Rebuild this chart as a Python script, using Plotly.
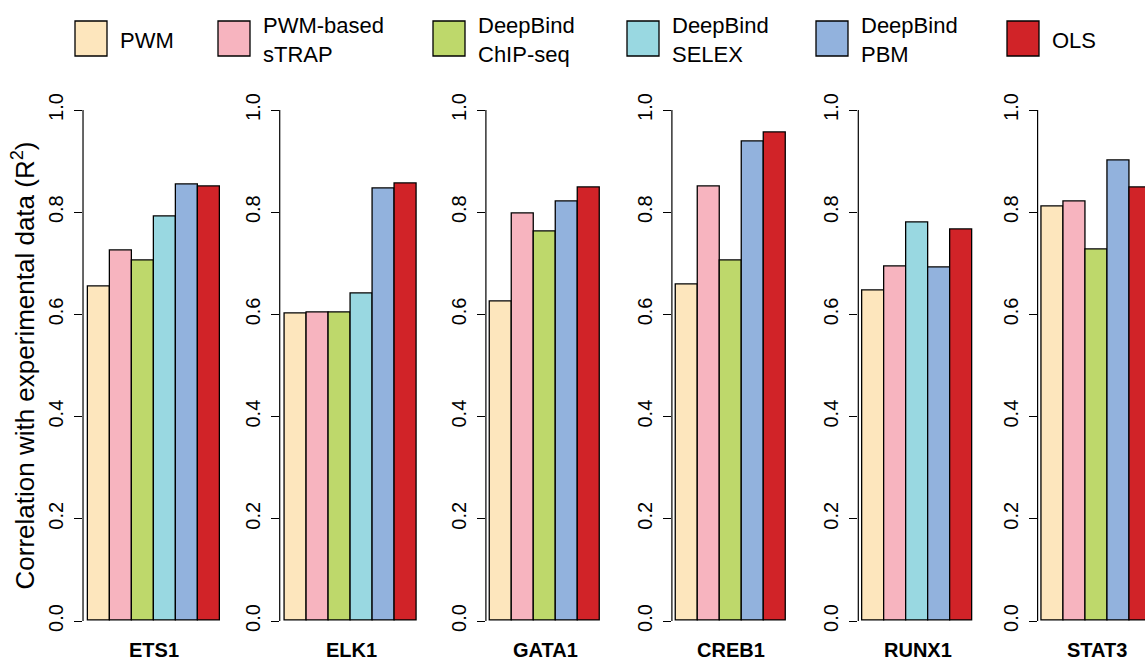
import plotly.graph_objects as go

# ---------------- data ----------------
methods = ["PWM", "PWM-based sTRAP", "DeepBind ChIP-seq", "DeepBind SELEX", "DeepBind PBM", "OLS"]
legend_labels = ["PWM", "PWM-based<br>sTRAP", "DeepBind<br>ChIP-seq", "DeepBind<br>SELEX", "DeepBind<br>PBM", "OLS"]
colors = ["#FDE6BD", "#F7B4BF", "#BED86B", "#99D8E1", "#92B2DD", "#D12328"]
factors = ["ETS1", "ELK1", "GATA1", "CREB1", "RUNX1", "STAT3"]
ets1 = [0.655, 0.724, 0.706, 0.791, 0.855, 0.850]
elk1 = [0.601, 0.604, 0.603, 0.640, 0.847, 0.857]
gata1 = [0.625, 0.798, 0.763, None, 0.821, 0.849]
creb1 = [0.659, 0.850, 0.705, None, 0.939, 0.956]
runx1 = [0.647, 0.694, None, 0.780, 0.692, 0.767]
stat3 = [0.812, 0.821, 0.726, None, 0.902, 0.848]
panel_values = [ets1, elk1, gata1, creb1, runx1, stat3]
y_ticks = [0.0, 0.2, 0.4, 0.6, 0.8, 1.0]
y_title = "Correlation with experimental data (R<sup>2</sup>)"

# ---------------- layout geometry (pixels) ----------------
W, H = 1145, 662
FONT = "Liberation Sans, Arial, Helvetica, sans-serif"
unit = 22.0                                  # px per bar
bar_start = [88.3, 285.0, 490.3, 676.3, 862.7, 1042.0]
y0_px, y1_px = 621.0, 110.0                  # pixel rows of 0 and 1
uy = y0_px - y1_px
yr = [-0.04, 1.04]
y_dom = [(H - (y0_px - yr[0] * uy)) / H, (H - (y0_px - yr[1] * uy)) / H]

legend_box_x = [75, 218, 433, 627, 816, 1007]
legend_box_y = (21, 56)

fig = go.Figure()
shapes = []
annotations = []
layout = {}

for i, (name, vals) in enumerate(zip(factors, panel_values)):
    k = i + 1
    xs, ys, cs = [], [], []
    for m, v in enumerate(vals):
        if v is None:
            continue
        xs.append(len(xs))
        ys.append(v)
        cs.append(colors[m])
    n = len(xs)
    pad = 0.04 * n
    left_px = bar_start[i] - pad * unit
    right_px = left_px + (n + 2 * pad) * unit
    rng = [-0.5 - pad, n - 0.5 + pad]
    if right_px > W:
        rng[1] = rng[0] + (W - left_px) / unit
        right_px = W
    xa = "xaxis" if k == 1 else f"xaxis{k}"
    ya = "yaxis" if k == 1 else f"yaxis{k}"
    xref = "x" if k == 1 else f"x{k}"
    yref = "y" if k == 1 else f"y{k}"
    layout[xa] = dict(domain=[left_px / W, right_px / W], range=rng, anchor=yref,
                      showticklabels=False, showgrid=False, zeroline=False,
                      showline=False, ticks="", fixedrange=True)
    layout[ya] = dict(domain=y_dom, range=yr, anchor=xref,
                      tickvals=y_ticks, ticktext=[f"{t:.1f}" for t in y_ticks],
                      tickangle=-90, ticks="outside", ticklen=8, tickwidth=1.2,
                      tickcolor="black", showgrid=False, zeroline=False,
                      showline=False, ticklabelstandoff=3, fixedrange=True,
                      tickfont=dict(family=FONT, size=20, color="black"))
    fig.add_trace(go.Bar(x=xs, y=ys, width=[1] * n, xaxis=xref, yaxis=yref,
                         marker=dict(color=cs, line=dict(color="black", width=1.3)),
                         showlegend=False, hoverinfo="skip"))
    shapes.append(dict(type="line", xref=f"{xref} domain", yref=yref, x0=0, x1=0,
                       y0=0, y1=1, line=dict(color="black", width=1.2)))
    annotations.append(dict(xref=xref, yref="paper", x=(n - 1) / 2, y=(H - 650) / H,
                            text=f"<b>{name}</b>", showarrow=False,
                            font=dict(family=FONT, size=20, color="black"),
                            xanchor="center", yanchor="middle"))

# y axis title
annotations.append(dict(xref="paper", yref="paper", x=24 / W,
                        y=(H - (y0_px + y1_px) / 2) / H,
                        text=y_title, textangle=-90, showarrow=False,
                        font=dict(family=FONT, size=26, color="black"),
                        xanchor="center", yanchor="middle"))

# legend
for bx, lab, col in zip(legend_box_x, legend_labels, colors):
    shapes.append(dict(type="rect", xref="paper", yref="paper",
                       x0=bx / W, x1=(bx + 32) / W,
                       y0=(H - legend_box_y[1]) / H, y1=(H - legend_box_y[0]) / H,
                       fillcolor=col, line=dict(color="black", width=1.3)))
    annotations.append(dict(xref="paper", yref="paper", x=(bx + 43) / W,
                            y=(H - 40) / H, text=lab, showarrow=False, align="left",
                            font=dict(family=FONT, size=22, color="black"),
                            xanchor="left", yanchor="middle"))

fig.update_layout(width=W, height=H, margin=dict(l=0, r=0, t=0, b=0),
                  paper_bgcolor="white", plot_bgcolor="white",
                  shapes=shapes, annotations=annotations, bargap=0, **layout)
fig.write_html("out.html", config={"displayModeBar": False},
               post_script="document.body.style.margin='0';document.body.style.overflow='hidden';")
